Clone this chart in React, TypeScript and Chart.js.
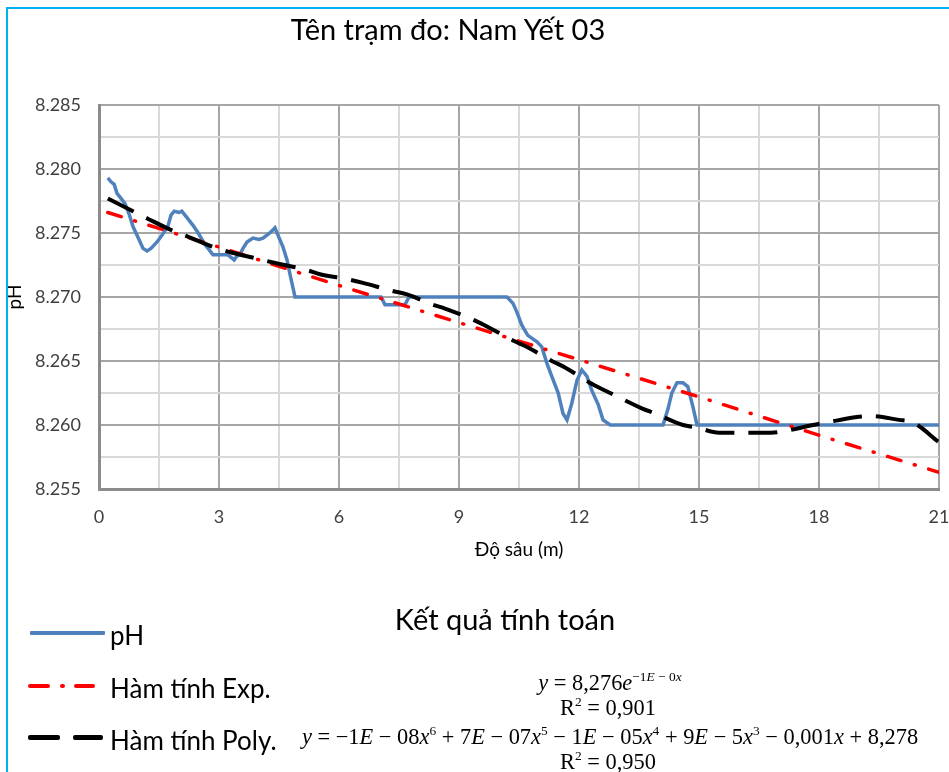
import React, { useEffect, useRef } from "react";
import { Chart, registerables } from "chart.js";

Chart.register(...registerables);

// ---- data ----
const depthPH = [
  0.22, 0.3, 0.38, 0.45, 0.55, 0.65, 0.75, 0.85, 1.0, 1.1, 1.2, 1.3, 1.45, 1.57, 1.72, 1.8, 1.88, 2.0, 2.07,
  2.2, 2.35, 2.48, 2.65, 2.85, 3.0, 3.22, 3.3, 3.38, 3.45, 3.52, 3.6, 3.7, 3.85, 4.0, 4.1, 4.27, 4.4, 4.48,
  4.6, 4.7, 4.78, 4.9, 7.05, 7.15, 7.65, 7.75, 10.2, 10.35, 10.45, 10.57, 10.72, 10.95, 11.07, 11.2, 11.32,
  11.48, 11.6, 11.7, 11.82, 11.95, 12.07, 12.2, 12.32, 12.48, 12.6, 12.78, 14.1, 14.22, 14.32, 14.45, 14.6,
  14.72, 14.85, 14.95, 21.0,
];
const valuePH = [
  8.2793, 8.279, 8.2788, 8.2781, 8.2777, 8.2773, 8.2765, 8.2755, 8.2745, 8.2738, 8.2736, 8.2738, 8.2743,
  8.2748, 8.2755, 8.2764, 8.2767, 8.2766, 8.2767, 8.2762, 8.2756, 8.275, 8.2741, 8.2733, 8.2733, 8.2733,
  8.2731, 8.2729, 8.2732, 8.2733, 8.2738, 8.2743, 8.2746, 8.2745, 8.2746, 8.275, 8.2754, 8.2748, 8.2739,
  8.2729, 8.2717, 8.27, 8.27, 8.2694, 8.2694, 8.27, 8.27, 8.2695, 8.2688, 8.2678, 8.267, 8.2665, 8.2661,
  8.2648, 8.2638, 8.2625, 8.2609, 8.2604, 8.2617, 8.2635, 8.2643, 8.2638, 8.2627, 8.2616, 8.2604, 8.26,
  8.26, 8.2612, 8.2625, 8.2633, 8.2633, 8.263, 8.2614, 8.26, 8.26,
];

const depthExp = [0.22, 3, 6, 9, 12, 15, 18, 21];
const valueExp = [8.2766, 8.2739, 8.2709, 8.268, 8.2651, 8.2622, 8.2592, 8.2563];

const depthPoly = [
  0.22, 0.85, 1.23, 1.9, 2.23, 2.95, 3.28, 3.95, 4.35, 5.2, 5.5, 6.2, 6.6, 7.3, 7.7, 8.35, 8.65, 9.3, 9.7,
  10.35, 10.7, 11.32, 11.65, 12.27, 12.65, 13.57, 13.9, 14.6, 14.95, 15.5, 16.1, 16.8, 17.1, 17.85, 18.2,
  18.9, 19.27, 20.0, 20.35, 20.98,
];
const valuePoly = [
  8.2777, 8.2767, 8.2761, 8.2751, 8.2747, 8.2738, 8.2735, 8.273, 8.2727, 8.2721, 8.2718, 8.2714, 8.2711,
  8.2705, 8.2702, 8.2694, 8.2691, 8.2683, 8.2677, 8.2666, 8.2661, 8.265, 8.2645, 8.2633, 8.2627, 8.2613,
  8.2609, 8.26, 8.2598, 8.2594, 8.2594, 8.2594, 8.2595, 8.26, 8.2602, 8.2606, 8.2607, 8.2604, 8.2602, 8.2587,
];

const X_MIN = 0;
const X_MAX = 21;
const X_STEP = 1.5;
const Y_MIN = 8.255;
const Y_MAX = 8.285;
const Y_STEP = 0.0025;

const TITLE = "Tên trạm đo: Nam Yết 03";
const X_TITLE = "Độ sâu (m)";
const Y_TITLE = "pH";
const SERIES_NAMES = ["pH", "Hàm tính Exp.", "Hàm tính Poly."];
const RESULT_TITLE = "Kết quả tính toán";

const BLUE = "#4F81BD";
const RED = "#FF0000";
const BLACK = "#000000";
const SANS = "Lato, 'Open Sans', sans-serif";
const SERIF = "'Liberation Serif', 'Times New Roman', serif";

function pts(xs: number[], ys: number[]) {
  return xs.map((x, i) => ({ x, y: ys[i] }));
}

export default function App() {
  const ref = useRef<HTMLCanvasElement | null>(null);

  useEffect(() => {
    if (!ref.current) return;
    const major = "#A6A6A6";
    const minor = "#D9D9D9";
    const chart = new Chart(ref.current, {
      type: "line",
      data: {
        datasets: [
          {
            label: SERIES_NAMES[0],
            data: pts(depthPH, valuePH),
            borderColor: BLUE,
            borderWidth: 3.5,
            pointRadius: 0,
            tension: 0,
            order: 3,
          },
          {
            label: SERIES_NAMES[1],
            data: pts(depthExp, valueExp),
            borderColor: RED,
            borderWidth: 3.5,
            borderDash: [14, 14, 1, 14],
            borderCapStyle: "round",
            pointRadius: 0,
            tension: 0,
            order: 2,
          },
          {
            label: SERIES_NAMES[2],
            data: pts(depthPoly, valuePoly),
            borderColor: BLACK,
            borderWidth: 4,
            borderDash: [29, 14],
            pointRadius: 0,
            cubicInterpolationMode: "monotone",
            order: 1,
          },
        ],
      },
      options: {
        animation: false,
        responsive: false,
        maintainAspectRatio: false,
        layout: { padding: { top: 105, right: 10, left: 0, bottom: 0 } },
        plugins: {
          legend: { display: false },
          tooltip: { enabled: false },
          title: { display: false },
        },
        scales: {
          x: {
            type: "linear",
            min: X_MIN,
            max: X_MAX,
            ticks: {
              stepSize: X_STEP,
              autoSkip: false,
              maxRotation: 0,
              padding: 17,
              color: "#404040",
              font: { family: SANS, size: 18 },
              callback: (v: any) => (Math.round(Number(v) * 2) % 6 === 0 ? String(Math.round(Number(v))) : ""),
            },
            grid: {
              drawTicks: false,
              lineWidth: 2,
              color: (c: any) => (Math.round(Number(c.tick?.value) * 2) % 6 === 0 ? major : minor),
            },
            border: { display: true, color: "#8C8C8C", width: 3 },
            title: {
              display: true,
              text: X_TITLE,
              color: "#000",
              font: { family: SANS, size: 19 },
              padding: { top: 0, bottom: 39 },
            },
            afterFit: (s: any) => {
              s.height = 111;
              s.paddingLeft = 0;
              s.paddingRight = 0;
            },
          },
          y: {
            type: "linear",
            min: Y_MIN,
            max: Y_MAX,
            ticks: {
              stepSize: Y_STEP,
              autoSkip: false,
              padding: 18,
              color: "#404040",
              font: { family: SANS, size: 18 },
              callback: (v: any) => (Math.round(Number(v) * 10000) % 50 === 0 ? Number(v).toFixed(3) : ""),
            },
            grid: {
              drawTicks: false,
              lineWidth: 2,
              color: (c: any) => (Math.round(Number(c.tick?.value) * 10000) % 50 === 0 ? major : minor),
            },
            border: { display: true, color: "#8C8C8C", width: 3 },
            title: {
              display: true,
              text: Y_TITLE,
              color: "#000",
              font: { family: SANS, size: 19 },
              padding: { top: 3, bottom: 0 },
            },
            afterFit: (s: any) => {
              s.width = 99;
              s.paddingTop = 0;
              s.paddingBottom = 0;
            },
          },
        },
      },
    });
    return () => chart.destroy();
  }, []);

  const abs = (o: React.CSSProperties): React.CSSProperties => ({
    position: "absolute",
    whiteSpace: "nowrap",
    lineHeight: 1,
    ...o,
  });
  const it: React.CSSProperties = { fontStyle: "italic" };
  const sup: React.CSSProperties = { fontSize: "0.6em", verticalAlign: "0.7em" };

  return (
    <div
      style={{
        position: "fixed",
        left: 0,
        top: 0,
        width: 949,
        height: 772,
        background: "#fff",
        overflow: "hidden",
      }}
    >
      <canvas ref={ref} width={949} height={600} style={{ position: "absolute", left: 0, top: 0, width: 949, height: 600 }} />
      <div
        style={{
          position: "absolute",
          left: 6,
          top: 7,
          width: 960,
          height: 780,
          borderLeft: "2px solid #00B0F0",
          borderTop: "2px solid #00B0F0",
        }}
      />
      <div style={abs({ left: 448, top: 11, transform: "translateX(-50%)", font: `29px ${SANS}`, color: "#000" })}>{TITLE}</div>

      <div style={abs({ left: 505, top: 601, transform: "translateX(-50%)", font: `29px ${SANS}`, color: "#000" })}>
        {RESULT_TITLE}
      </div>

      {/* legend samples */}
      <div style={{ position: "absolute", left: 30, top: 631, width: 75, height: 4, background: BLUE, borderRadius: 1 }} />
      <div style={abs({ left: 110, top: 619, font: `26px ${SANS}`, color: "#000" })}>{SERIES_NAMES[0]}</div>

      <div style={{ position: "absolute", left: 28, top: 684, width: 22, height: 4, background: RED, borderRadius: 2 }} />
      <div style={abs({ left: 60, top: 684, width: 5, height: 4, background: RED, borderRadius: 2 })} />
      <div style={{ position: "absolute", left: 74, top: 684, width: 21, height: 4, background: RED, borderRadius: 2 }} />
      <div style={abs({ left: 110, top: 672, font: `26px ${SANS}`, color: "#000" })}>{SERIES_NAMES[1]}</div>

      <div style={{ position: "absolute", left: 28, top: 735, width: 32, height: 5, background: BLACK, borderRadius: 2 }} />
      <div style={{ position: "absolute", left: 73, top: 735, width: 30, height: 5, background: BLACK, borderRadius: 2 }} />
      <div style={abs({ left: 110, top: 724, font: `26px ${SANS}`, color: "#000" })}>{SERIES_NAMES[2]}</div>

      {/* formulas */}
      <div style={abs({ left: 610, top: 669, transform: "translateX(-50%)", font: `22.4px ${SERIF}`, color: "#000" })}>
        <span style={it}>y</span> = 8,276<span style={it}>e</span>
        <span style={sup}>
          −1<span style={it}>E</span> − 0<span style={it}>x</span>
        </span>
      </div>
      <div style={abs({ left: 608, top: 694, transform: "translateX(-50%)", font: `22.4px ${SERIF}`, color: "#000" })}>
        R<span style={sup}>2</span> = 0,901
      </div>
      <div style={abs({ left: 610, top: 723, transform: "translateX(-50%)", font: `22.4px ${SERIF}`, color: "#000" })}>
        <span style={it}>y</span> = −1<span style={it}>E</span> − 08<span style={it}>x</span>
        <span style={sup}>6</span> + 7<span style={it}>E</span> − 07<span style={it}>x</span>
        <span style={sup}>5</span> − 1<span style={it}>E</span> − 05<span style={it}>x</span>
        <span style={sup}>4</span> + 9<span style={it}>E</span> − 5<span style={it}>x</span>
        <span style={sup}>3</span> − 0,001<span style={it}>x</span> + 8,278
      </div>
      <div style={abs({ left: 608, top: 748, transform: "translateX(-50%)", font: `22.4px ${SERIF}`, color: "#000" })}>
        R<span style={sup}>2</span> = 0,950
      </div>
    </div>
  );
}
